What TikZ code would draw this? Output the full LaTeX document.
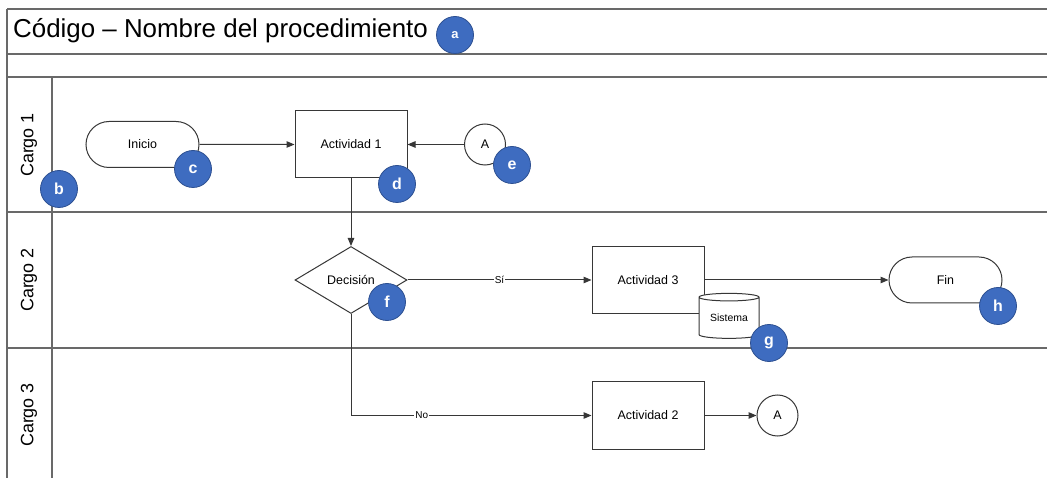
\documentclass[tikz,border=0pt]{standalone}
\usepackage{fontspec}
\setmainfont{Liberation Sans}
\usetikzlibrary{shapes.geometric,shapes.misc,arrows.meta}
\definecolor{lanegray}{RGB}{105,105,105}
\definecolor{linegray}{RGB}{55,55,55}
\definecolor{badgefill}{RGB}{62,108,192}
\definecolor{badgeedge}{RGB}{45,80,145}
\begin{document}
\begin{tikzpicture}[x=1bp,y=-1bp,
  lane/.style={draw=lanegray,line width=1.3bp},
  flow/.style={draw=linegray,line width=1bp,-{Triangle[length=8bp,width=6.5bp]}},
  shapeline/.style={draw=linegray,line width=1bp,fill=white,inner sep=0pt,
    font=\fontsize{12.5}{14}\selectfont},
  activity/.style={shapeline,rectangle,minimum width=112bp,minimum height=67bp},
  terminal/.style={shapeline,rounded rectangle,minimum width=113bp,minimum height=46bp},
  decision/.style={shapeline,diamond,minimum width=112bp,minimum height=67bp},
  connector/.style={shapeline,circle,minimum size=41bp},
  store/.style={shapeline,cylinder,shape border rotate=90,aspect=0.2,
    minimum width=60bp,minimum height=45bp,font=\fontsize{10.5}{12}\selectfont},
  badge/.style={circle,fill=badgefill,draw=badgeedge,line width=0.8bp,minimum size=37bp,
    inner sep=0pt,text=white,font=\fontsize{16}{18}\bfseries\selectfont},
  lanetitle/.style={rotate=90,font=\fontsize{18}{20}\selectfont},
  flowlabel/.style={fill=white,inner sep=1bp,font=\fontsize{10}{11}\selectfont}]

\useasboundingbox (0,0) rectangle (1047,478);

% frame and swimlanes
\draw[lane] (7,9) -- (1047,9);
\draw[lane] (7,54) -- (1047,54);
\draw[lane] (7,77) -- (1047,77);
\draw[lane] (7,212) -- (1047,212);
\draw[lane] (7,348) -- (1047,348);
\draw[lane] (7,9) -- (7,478);
\draw[lane] (52,77) -- (52,478);

\node[anchor=west,font=\fontsize{26}{30}\selectfont,inner sep=0pt] (title) at (13,31)
  {Código – Nombre del procedimiento};

\node[lanetitle] (cargo1) at (29,145) {Cargo 1};
\node[lanetitle] (cargo2) at (29,280) {Cargo 2};
\node[lanetitle] (cargo3) at (29,415) {Cargo 3};

% flow elements
\node[terminal] (inicio) at (142.5,144.5) {Inicio};
\node[activity] (act1) at (351,144.5) {Actividad 1};
\node[connector] (conA1) at (485,144.5) {A};
\node[decision] (dec) at (351,280) {Decisión};
\node[activity] (act3) at (648,280) {Actividad 3};
\node[store,text depth=-6bp] (sis) at (729,318) {Sistema};
\node[terminal] (fin) at (945.5,280) {Fin};
\node[activity] (act2) at (648,415.5) {Actividad 2};
\node[connector] (conA2) at (777.5,415.5) {A};

% connectors
\draw[flow] (inicio) -- (act1);
\draw[flow] (conA1) -- (act1);
\draw[flow] (act1) -- (dec);
\draw[flow] (dec) -- node[flowlabel] {Sí} (act3);
\draw[flow] (act3) -- (fin);
\draw[flow] (dec.south) |- node[flowlabel,pos=0.647] {No} (act2.west);
\draw[flow] (act2) -- (conA2);

% reference badges
\node[badge,font=\fontsize{13}{15}\bfseries\selectfont] (ba) at (455,35) {a};
\node[badge] (bb) at (59,189) {b};
\node[badge] (bc) at (193,169) {c};
\node[badge] (bd) at (397,184) {d};
\node[badge] (be) at (512,165) {e};
\node[badge] (bf) at (387,302) {f};
\node[badge] (bg) at (769,343) {g};
\node[badge] (bh) at (998,306) {h};
\end{tikzpicture}
\end{document}
